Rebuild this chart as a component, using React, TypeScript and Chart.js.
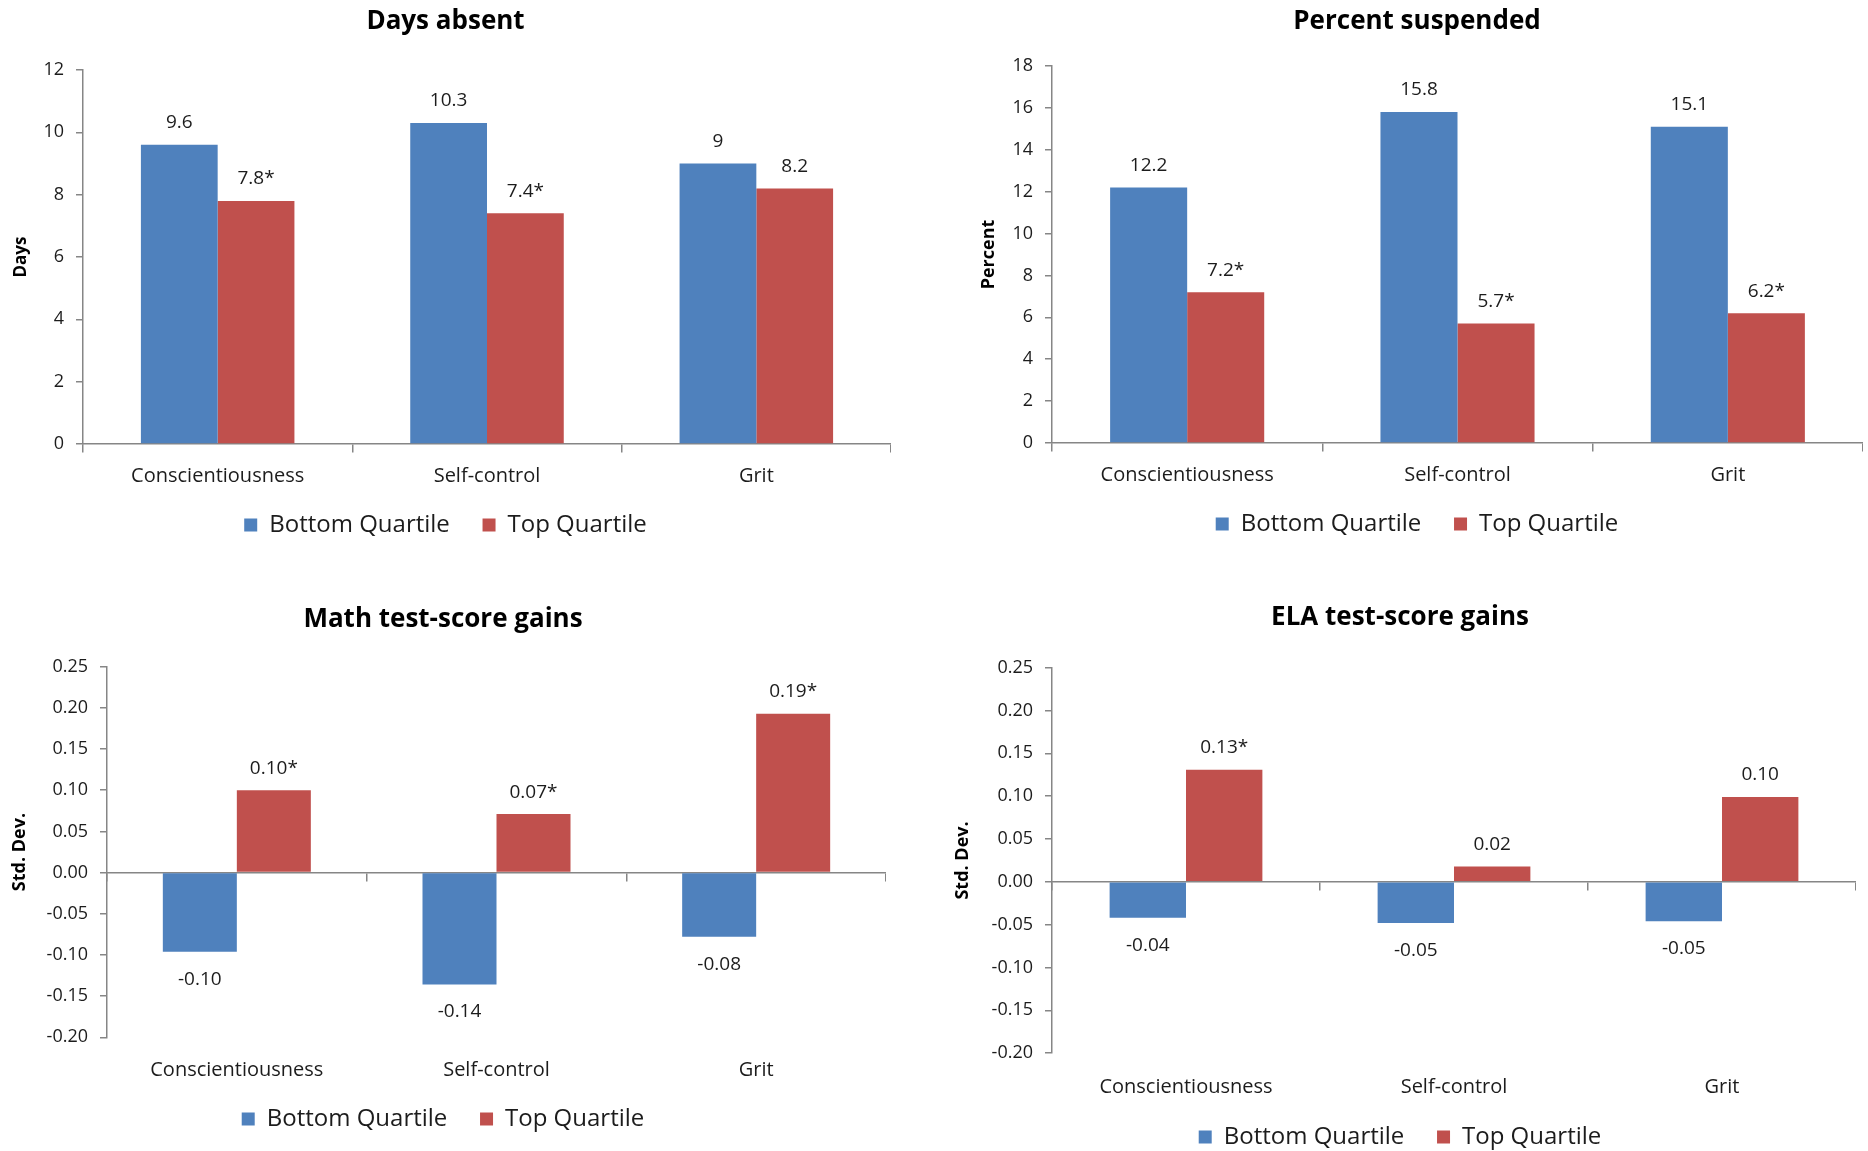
import React, { useEffect, useRef } from 'react';
import { Chart, registerables } from 'chart.js';

Chart.register(...registerables);

// ---------- data ----------
const categories = ['Conscientiousness', 'Self-control', 'Grit'];
const seriesNames = ['Bottom Quartile', 'Top Quartile'];

const daysBottom = [9.6, 10.3, 9];
const daysTop = [7.8, 7.4, 8.2];
const daysBottomSig = [false, false, false];
const daysTopSig = [true, true, false];

const suspBottom = [12.2, 15.8, 15.1];
const suspTop = [7.2, 5.7, 6.2];
const suspBottomSig = [false, false, false];
const suspTopSig = [true, true, true];

const mathBottom = [-0.096, -0.136, -0.078];
const mathTop = [0.1, 0.071, 0.193];
const mathBottomSig = [false, false, false];
const mathTopSig = [true, true, true];

const elaBottom = [-0.042, -0.048, -0.046];
const elaTop = [0.131, 0.018, 0.099];
const elaBottomSig = [false, false, false];
const elaTopSig = [true, false, false];

const BLUE = '#4F81BD';
const RED = '#C0504D';
const AXIS = '#868686';
const TEXT = '#1c1c1c';
const FONT = "'Open Sans', 'DejaVu Sans', sans-serif";

Chart.defaults.font.family = FONT;
Chart.defaults.color = TEXT;

type Panel = {
  title: string;
  yTitle: string;
  yTitleSize: number;
  yTitlePad: number;
  bottom: number[];
  top: number[];
  bottomSig: boolean[];
  topSig: boolean[];
  min: number;
  max: number;
  step: number;
  decimals: number;
  x: number;
  y: number;
  w: number;
  h: number;
  yWidth: number;
  padBottom: number;
  titlePadTop: number;
  titlePadBottom: number;
  xHeight: number;
  xPad: number;
};

const panels: Panel[] = [
  {
    title: 'Days absent', yTitle: 'Days', yTitleSize: 17, yTitlePad: 10.5,
    bottom: daysBottom, top: daysTop, bottomSig: daysBottomSig, topSig: daysTopSig,
    min: 0, max: 12, step: 2, decimals: 0,
    x: 0, y: 0, w: 891, h: 560, yWidth: 83, padBottom: 13,
    titlePadTop: 6.4, titlePadBottom: 32.4, xHeight: 55, xPad: 12.7,
  },
  {
    title: 'Percent suspended', yTitle: 'Percent', yTitleSize: 18, yTitlePad: 7.2,
    bottom: suspBottom, top: suspTop, bottomSig: suspBottomSig, topSig: suspTopSig,
    min: 0, max: 18, step: 2, decimals: 0,
    x: 971, y: 0, w: 892, h: 560, yWidth: 81, padBottom: 14,
    titlePadTop: 5.9, titlePadBottom: 28.9, xHeight: 55, xPad: 12,
  },
  {
    title: 'Math test-score gains', yTitle: 'Std. Dev.', yTitleSize: 18, yTitlePad: 9.2,
    bottom: mathBottom, top: mathTop, bottomSig: mathBottomSig, topSig: mathTopSig,
    min: -0.2, max: 0.25, step: 0.05, decimals: 2,
    x: 0, y: 580, w: 886, h: 571, yWidth: 107, padBottom: 10,
    titlePadTop: 23.9, titlePadBottom: 31.6, xHeight: 55.7, xPad: 12.7,
  },
  {
    title: 'ELA test-score gains', yTitle: 'Std. Dev.', yTitleSize: 18, yTitlePad: 8.2,
    bottom: elaBottom, top: elaTop, bottomSig: elaBottomSig, topSig: elaTopSig,
    min: -0.2, max: 0.25, step: 0.05, decimals: 2,
    x: 944, y: 580, w: 912, h: 579, yWidth: 108, padBottom: 0,
    titlePadTop: 22.4, titlePadBottom: 34.1, xHeight: 57.8, xPad: 13.8,
  },
];

function fmt(v: number, decimals: number): string {
  if (decimals === 0) return String(v);
  const z = Math.abs(v) < 1e-9 ? 0 : v;
  return z.toFixed(decimals);
}

function makeLabelPlugin(p: Panel) {
  const sig = [p.bottomSig, p.topSig];
  return {
    id: 'valueLabels',
    afterDatasetsDraw(chart: any) {
      const ctx = chart.ctx;
      ctx.save();
      ctx.font = `19px ${FONT}`;
      ctx.fillStyle = TEXT;
      ctx.textAlign = 'center';
      ctx.textBaseline = 'middle';
      chart.data.datasets.forEach((ds: any, di: number) => {
        const meta = chart.getDatasetMeta(di);
        meta.data.forEach((el: any, i: number) => {
          const v = ds.data[i] as number;
          const txt = fmt(v, p.decimals) + (sig[di][i] ? '*' : '');
          const y = v >= 0 ? el.y - 22 : el.y + 27.5;
          ctx.fillText(txt, el.x, y);
        });
      });
      ctx.restore();
    },
  };
}

function BarPanel({ p }: { p: Panel }) {
  const ref = useRef<HTMLCanvasElement>(null);
  useEffect(() => {
    if (!ref.current) return;
    const chart = new Chart(ref.current, {
      type: 'bar',
      data: {
        labels: categories,
        datasets: [
          { label: seriesNames[0], data: p.bottom, backgroundColor: BLUE, borderWidth: 0, barPercentage: 1, categoryPercentage: 0.57 },
          { label: seriesNames[1], data: p.top, backgroundColor: RED, borderWidth: 0, barPercentage: 1, categoryPercentage: 0.57 },
        ],
      },
      options: {
        responsive: false,
        animation: false,
        layout: { padding: { left: 0, right: 0, top: 0, bottom: p.padBottom } },
        plugins: {
          tooltip: { enabled: false },
          title: {
            display: true,
            text: p.title,
            color: '#000',
            font: { size: 26, weight: 'bold' },
            padding: { top: p.titlePadTop, bottom: p.titlePadBottom },
          },
          legend: {
            display: true,
            position: 'bottom',
            labels: {
              boxWidth: 13,
              boxHeight: 13,
              padding: 14,
              color: TEXT,
              font: { size: 24 },
              generateLabels: (chart: any) => {
                const items = Chart.defaults.plugins.legend.labels.generateLabels(chart);
                if (items.length > 0) items[0].text = items[0].text + '   ';
                return items;
              },
            },
          },
        },
        scales: {
          x: {
            type: 'category',
            position: 'bottom',
            grid: { display: false },
            border: { display: false },
            ticks: { font: { size: 20 }, color: TEXT, padding: p.xPad, maxRotation: 0, autoSkip: false },
            afterFit: (s: any) => { s.height = p.xHeight; },
          },
          x2: {
            type: 'category',
            position: { y: 0 },
            offset: true,
            grid: { display: true, offset: true, drawOnChartArea: false, drawTicks: true, tickLength: 8, color: AXIS, lineWidth: 1.5 },
            border: { display: true, color: AXIS, width: 1.5 },
            ticks: { display: false },
          },
          y: {
            type: 'linear',
            position: 'left',
            min: p.min,
            max: p.max,
            grid: { display: true, drawOnChartArea: false, drawTicks: true, tickLength: 7, color: AXIS, lineWidth: 1.5 },
            border: { display: true, color: AXIS, width: 1.5 },
            ticks: {
              stepSize: p.step,
              padding: 12,
              color: TEXT,
              font: { size: 18 },
              callback: (v: any) => fmt(Number(v), p.decimals),
            },
            title: {
              display: true,
              text: p.yTitle,
              color: '#000',
              font: { size: p.yTitleSize, weight: 'bold' },
              padding: { top: p.yTitlePad, bottom: 0 },
            },
            afterFit: (s: any) => { s.width = p.yWidth; },
          },
        },
      } as any,
      plugins: [makeLabelPlugin(p)],
    });
    return () => chart.destroy();
  }, []);
  return (
    <canvas
      ref={ref}
      width={p.w}
      height={p.h}
      style={{ position: 'absolute', left: p.x, top: p.y, width: p.w, height: p.h }}
    />
  );
}

export default function App() {
  return (
    <div
      style={{
        position: 'fixed',
        left: 0,
        top: 0,
        width: 1868,
        height: 1151,
        overflow: 'hidden',
        background: '#ffffff',
      }}
    >
      {panels.map((p, i) => (
        <BarPanel key={i} p={p} />
      ))}
    </div>
  );
}
